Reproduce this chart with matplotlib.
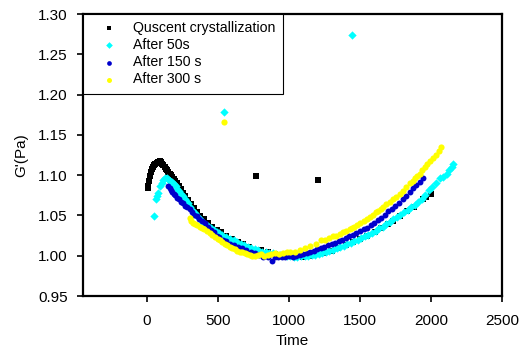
import matplotlib
matplotlib.use("Agg")
import matplotlib.pyplot as plt
from matplotlib.ticker import FormatStrFormatter

plt.rcParams['font.family'] = ['Liberation Sans', 'DejaVu Sans']

# ---------------- data ----------------
labels = ["Quscent crystallization", "After 50s", "After 150 s", "After 300 s"]

black_x = [5, 10, 16, 22, 28, 36, 44, 52, 60, 68, 76, 84, 92, 100, 108, 116, 124, 132, 140, 150,
           160, 170, 180, 190, 200, 212, 225, 240, 255, 270, 290, 310, 330, 350, 375, 400, 430, 460,
           490, 520, 560, 600, 640, 680, 720, 767, 800, 850, 900, 950, 1000, 1050, 1100, 1150, 1205,
           1250, 1300, 1343, 1400, 1449, 1500, 1550, 1603, 1650, 1700, 1730, 1780, 1830, 1880, 1941,
           1967, 2000]
black_y = [1.084, 1.087, 1.093, 1.099, 1.104, 1.108, 1.110, 1.112, 1.114, 1.115, 1.116, 1.116, 1.117,
           1.116, 1.114, 1.112, 1.110, 1.108, 1.106, 1.104, 1.102, 1.100, 1.098, 1.095, 1.093, 1.090,
           1.087, 1.083, 1.078, 1.074, 1.069, 1.064, 1.059, 1.054, 1.049, 1.045, 1.040, 1.036, 1.032,
           1.029, 1.025, 1.021, 1.017, 1.014, 1.011, 1.099, 1.007, 1.004, 1.002, 1.001, 1.000, 0.999,
           0.999, 1.000, 1.094, 1.003, 1.006, 1.009, 1.013, 1.017, 1.021, 1.025, 1.029, 1.034, 1.039,
           1.043, 1.049, 1.055, 1.061, 1.070, 1.073, 1.077]

cyan_x = [51, 63, 72, 80, 91, 103, 115, 127, 140, 152, 165, 178, 190, 203, 215, 228, 240, 253, 265,
          278, 290, 303, 320, 338, 355, 373, 390, 410, 430, 450, 470, 490, 510, 530, 544, 560, 585,
          610, 635, 660, 685, 710, 735, 760, 785, 810, 835, 860, 885, 910, 935, 960, 985, 1010, 1035,
          1060, 1085, 1110, 1135, 1160, 1185, 1210, 1235, 1260, 1285, 1310, 1335, 1360, 1385, 1410,
          1435, 1447, 1460, 1485, 1510, 1535, 1560, 1585, 1610, 1635, 1660, 1685, 1710, 1735, 1760,
          1785, 1810, 1835, 1860, 1885, 1910, 1935, 1960, 1985, 2010, 2035, 2060, 2085, 2110, 2130,
          2145, 2155]
cyan_y = [1.049, 1.070, 1.074, 1.078, 1.086, 1.090, 1.094, 1.097, 1.096, 1.094, 1.093, 1.091, 1.089,
          1.086, 1.083, 1.080, 1.077, 1.074, 1.071, 1.068, 1.065, 1.061, 1.057, 1.053, 1.049, 1.045,
          1.042, 1.039, 1.037, 1.034, 1.032, 1.030, 1.028, 1.026, 1.178, 1.023, 1.021, 1.019, 1.017,
          1.015, 1.013, 1.011, 1.009, 1.008, 1.007, 1.005, 1.004, 1.003, 1.003, 1.002, 1.001, 1.001,
          1.000, 1.000, 0.999, 0.999, 1.000, 1.000, 1.000, 1.001, 1.001, 1.002, 1.003, 1.004, 1.006,
          1.007, 1.009, 1.011, 1.012, 1.014, 1.016, 1.274, 1.018, 1.020, 1.022, 1.024, 1.026, 1.028,
          1.031, 1.034, 1.036, 1.039, 1.042, 1.045, 1.048, 1.051, 1.054, 1.057, 1.060, 1.063, 1.067,
          1.071, 1.075, 1.081, 1.085, 1.090, 1.096, 1.098, 1.102, 1.106, 1.110, 1.114]

blue_x = [150, 160, 170, 180, 190, 200, 212, 225, 240, 255, 270, 285, 300, 318, 335, 350, 370, 390,
          410, 430, 450, 470, 490, 510, 535, 560, 585, 610, 640, 670, 700, 730, 760, 790, 820, 850,
          884, 900, 925, 950, 975, 1000, 1025, 1050, 1075, 1100, 1125, 1150, 1175, 1200, 1225, 1250,
          1275, 1300, 1325, 1350, 1375, 1400, 1425, 1450, 1475, 1500, 1525, 1550, 1575, 1600, 1625,
          1650, 1675, 1700, 1725, 1750, 1775, 1800, 1825, 1850, 1873, 1895, 1920, 1943]
blue_y = [1.086, 1.084, 1.081, 1.079, 1.077, 1.075, 1.072, 1.070, 1.067, 1.065, 1.062, 1.060, 1.058,
          1.054, 1.051, 1.049, 1.046, 1.043, 1.040, 1.036, 1.032, 1.029, 1.025, 1.023, 1.020, 1.018,
          1.015, 1.013, 1.011, 1.009, 1.007, 1.005, 1.003, 1.001, 0.999, 0.998, 0.993, 0.998, 0.999,
          0.998, 0.999, 1.000, 0.999, 1.000, 1.001, 1.002, 1.003, 1.004, 1.006, 1.008, 1.010, 1.011,
          1.013, 1.015, 1.016, 1.018, 1.020, 1.022, 1.024, 1.026, 1.028, 1.031, 1.033, 1.035, 1.038,
          1.041, 1.044, 1.047, 1.051, 1.055, 1.058, 1.062, 1.066, 1.070, 1.074, 1.079, 1.084, 1.088,
          1.092, 1.097]

yellow_x = [300, 312, 326, 340, 355, 373, 390, 405, 420, 443, 460, 480, 497, 513, 530, 544, 550, 567,
            584, 602, 620, 637, 654, 672, 690, 707, 724, 742, 760, 780, 800, 825, 850, 875, 900, 930,
            959, 985, 1010, 1040, 1076, 1110, 1150, 1190, 1228, 1255, 1280, 1310, 1334, 1360, 1380,
            1405, 1428, 1445, 1460, 1480, 1498, 1525, 1550, 1570, 1591, 1610, 1630, 1645, 1662, 1685,
            1710, 1735, 1756, 1780, 1800, 1825, 1850, 1870, 1890, 1905, 1920, 1940, 1960, 1975, 1990,
            2015, 2037, 2055, 2072]
yellow_y = [1.047, 1.043, 1.041, 1.039, 1.038, 1.036, 1.034, 1.033, 1.031, 1.028, 1.026, 1.023, 1.021,
            1.019, 1.017, 1.166, 1.015, 1.013, 1.011, 1.009, 1.008, 1.006, 1.005, 1.004, 1.003, 1.002,
            1.001, 1.000, 1.000, 1.001, 1.002, 1.000, 1.001, 1.002, 1.003, 1.002, 1.003, 1.004, 1.004,
            1.005, 1.007, 1.009, 1.012, 1.015, 1.019, 1.020, 1.022, 1.024, 1.025, 1.027, 1.029, 1.031,
            1.033, 1.035, 1.036, 1.038, 1.040, 1.043, 1.046, 1.048, 1.051, 1.054, 1.056, 1.058, 1.061,
            1.064, 1.067, 1.070, 1.073, 1.077, 1.080, 1.085, 1.090, 1.093, 1.096, 1.099, 1.102, 1.106,
            1.110, 1.114, 1.117, 1.121, 1.125, 1.130, 1.135]

x_ticks = [0, 500, 1000, 1500, 2000, 2500]
y_ticks = [0.95, 1.00, 1.05, 1.10, 1.15, 1.20, 1.25, 1.30]

# ---------------- figure ----------------
fig = plt.figure(figsize=(5.21, 3.51), dpi=100)
ax = fig.add_axes([83 / 521, 1 - 296 / 351, (502 - 83) / 521, (296 - 14) / 351])

ax.scatter(black_x, black_y, marker='s', s=15, color='black', linewidths=0, label=labels[0], zorder=2)
ax.scatter(cyan_x, cyan_y, marker='D', s=18, color='#00FFFF', linewidths=0, label=labels[1], zorder=3)
ax.scatter(blue_x, blue_y, marker='o', s=18, color='#0000CC', linewidths=0, label=labels[2], zorder=4)
ax.scatter(yellow_x, yellow_y, marker='o', s=20, color='#FFFF00', linewidths=0, label=labels[3], zorder=5)

ax.set_xlim(-450, 2500)
ax.set_ylim(0.95, 1.30)
ax.set_xticks(x_ticks)
ax.set_yticks(y_ticks)
ax.yaxis.set_major_formatter(FormatStrFormatter('%.2f'))

for sp in ax.spines.values():
    sp.set_linewidth(1.6)
    sp.set_color('black')

ax.tick_params(axis='both', direction='out', length=4, width=1.2, labelsize=11, colors='black')
ax.tick_params(axis='y', pad=7)
ax.tick_params(axis='x', pad=9)

ax.set_xlabel("Time", fontsize=11, labelpad=4)
ax.set_ylabel("G'(Pa)", fontsize=11, labelpad=7)

leg = ax.legend(loc='upper left', bbox_to_anchor=(0, 1), borderaxespad=0, fontsize=10.2,
                frameon=True, fancybox=False, edgecolor='black', framealpha=1,
                handletextpad=0.45, handlelength=2.6, labelspacing=0.22, borderpad=0.5,
                markerscale=0.8, scatterpoints=1)
leg.get_frame().set_linewidth(0.8)

fig.savefig("out.png", dpi=100)
